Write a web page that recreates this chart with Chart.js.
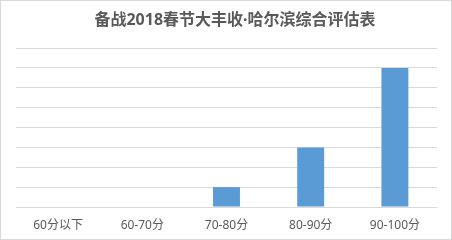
<!DOCTYPE html>
<html>
<head>
<meta charset="utf-8">
<script src="https://cdn.jsdelivr.net/npm/chart.js@4/dist/chart.umd.min.js"></script>
<style>
  html, body { margin: 0; padding: 0; background: #fff; }
  #caja { width: 452px; height: 240px; box-sizing: border-box; border: 1px solid #d9d9d9; }
  canvas { display: block; }
</style>
</head>
<body>
<div id="caja"><canvas id="grafico" width="450" height="238"></canvas></div>
<script>
// Datos del gráfico
const titulo = '备战2018春节大丰收·哈尔滨综合评估表';
const categorias = ['60分以下', '60-70分', '70-80分', '80-90分', '90-100分'];
const valores = [0, 0, 1, 3, 7];

const fuente = '"Noto Sans", "Noto Sans CJK SC", sans-serif';
const gris = '#595959';
const lineas = '#d9d9d9';

// Título dibujado a mano (va un poco corrido a la derecha en el original)
const pluginTitulo = {
    id: 'pluginTitulo',
    afterDraw(chart) {
        const ctx = chart.ctx;
        ctx.save();
        ctx.font = 'bold 16px ' + fuente;
        ctx.fillStyle = gris;
        ctx.textAlign = 'center';
        ctx.textBaseline = 'middle';
        ctx.fillText(titulo, 234, 19);
        ctx.restore();
    }
};

new Chart(document.getElementById('grafico').getContext('2d'), {
    type: 'bar',
    data: {
        labels: categorias,
        datasets: [{
            data: valores,
            backgroundColor: '#5b9bd5',
            barPercentage: 0.32,
            categoryPercentage: 1
        }]
    },
    options: {
        responsive: false,
        animation: false,
        devicePixelRatio: 1,
        layout: { padding: { top: 47, left: 15, right: 14, bottom: 0 } },
        plugins: {
            legend: { display: false },
            title: { display: false },
            tooltip: { enabled: false }
        },
        scales: {
            x: {
                grid: { display: false, drawTicks: false },
                border: { color: lineas, width: 1 },
                ticks: { color: gris, padding: 11, font: { family: fuente, size: 12 } },
                // alto fijo del eje para que el área quede igual que en el original
                afterFit: (eje) => { eje.height = 32; }
            },
            y: {
                min: 0,
                max: 8,
                ticks: { display: false, stepSize: 1 },
                grid: { color: lineas, drawTicks: false },
                border: { display: false }
            }
        }
    },
    plugins: [pluginTitulo]
});
</script>
</body>
</html>
